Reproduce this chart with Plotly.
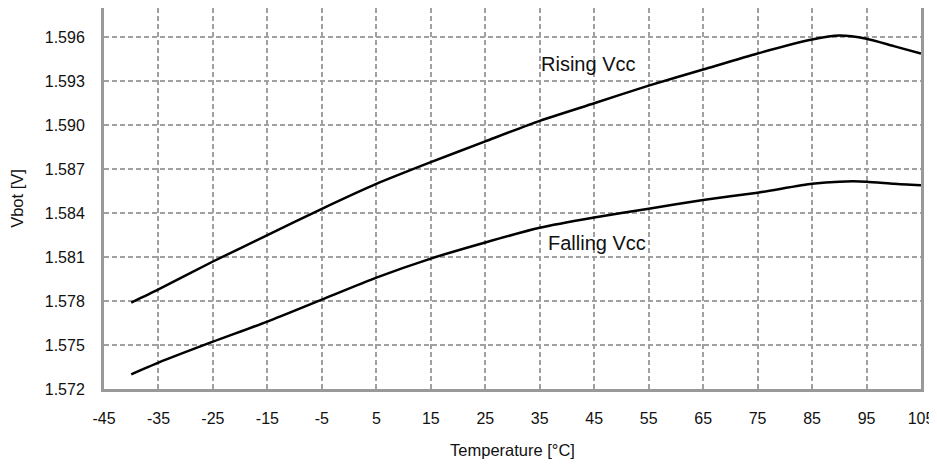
import plotly.graph_objects as go

temps = [-40, -35, -25, -15, -5, 5, 15, 25, 35, 45, 55, 65, 75, 85, 90, 95, 100, 105]
rising = [1.5779, 1.5788, 1.5807, 1.5825, 1.5843, 1.5860, 1.58748, 1.5889, 1.5903, 1.5915,
          1.5927, 1.5938, 1.5949, 1.59585, 1.59612, 1.5959, 1.5954, 1.5949]
falling = [1.5730, 1.5738, 1.57523, 1.5766, 1.5781, 1.5796, 1.5809, 1.5820, 1.5830, 1.5837,
           1.5843, 1.5849, 1.5854, 1.5860, 1.58615, 1.58615, 1.5860, 1.5859]
x_ticks = list(range(-45, 106, 10))
y_ticks = [1.572, 1.575, 1.578, 1.581, 1.584, 1.587, 1.590, 1.593, 1.596]
labels = ["Rising Vcc", "Falling Vcc"]
label_pos = [(43.8, 1.5942), (45.6, 1.58195)]

FONT = "Arial, Liberation Sans"

fig = go.Figure()
for ys in (rising, falling):
    fig.add_trace(go.Scatter(x=temps, y=ys, mode="lines",
                             line=dict(color="black", width=2.5, shape="spline", smoothing=0.6),
                             showlegend=False, hoverinfo="skip"))
for t, (lx, ly) in zip(labels, label_pos):
    fig.add_annotation(x=lx, y=ly, text=t, showarrow=False,
                       font=dict(family=FONT, size=20, color="#111"))

axis_common = dict(showline=True, linecolor="#999", linewidth=3, mirror=True,
                   showgrid=True, gridcolor="#a0a0a0", gridwidth=2, griddash="5px,3px",
                   zeroline=False, ticks="", automargin=False,
                   tickfont=dict(family=FONT, size=16, color="#111"))
fig.update_xaxes(range=[-45, 105], tickvals=x_ticks, ticktext=[str(v) for v in x_ticks],
                 ticklabelstandoff=13, ticklabeloverflow="allow",
                 title=dict(text="Temperature [°C]", standoff=21,
                            font=dict(family=FONT, size=16.5, color="#111")),
                 **axis_common)
fig.update_yaxes(range=[1.572, 1.598], tickvals=y_ticks, ticktext=[f"{v:.3f}" for v in y_ticks],
                 ticklabelstandoff=13,
                 title=dict(text="Vbot [V]", standoff=18,
                            font=dict(family=FONT, size=16.5, color="#111")),
                 **axis_common)
fig.update_layout(width=929, height=451, margin=dict(l=96, r=16, t=0, b=70),
                  plot_bgcolor="white", paper_bgcolor="white")
fig.write_html("out.html")
